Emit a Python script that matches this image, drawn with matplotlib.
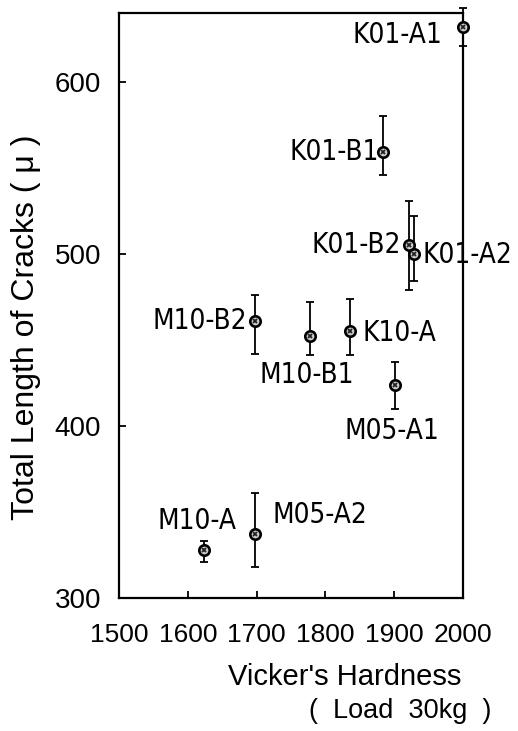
"""
Total crack length vs. Vicker's hardness (load 30 kg), per sample.
"""

import matplotlib
matplotlib.use('Agg')
import matplotlib.pyplot as plt
from matplotlib import font_manager

SAMPLES = ['K01-A1', 'K01-B1', 'K01-B2', 'K01-A2', 'M10-B2',
           'M10-B1', 'K10-A', 'M05-A1', 'M10-A', 'M05-A2']
HARDNESS = [2000, 1884, 1922, 1929, 1698, 1777, 1836, 1901, 1624, 1697]
CRACK_LEN = [632, 559, 505, 500, 461, 452, 455, 424, 328, 337]
ERR_LOW = [11, 13, 26, 16, 19, 11, 14, 14, 7, 19]
ERR_HIGH = [11, 21, 26, 22, 15, 20, 19, 13, 5, 24]

X_TICKS = [1500, 1600, 1700, 1800, 1900, 2000]
Y_TICKS = [300, 400, 500, 600]

# label placement: (dx, dy) in points, ha, va
LABEL_POS = {
    'K01-A1': ((-15, -6), 'right', 'center'),
    'K01-B1': ((-3, 0), 'right', 'center'),
    'K01-B2': ((-6, 0), 'right', 'center'),
    'K01-A2': ((6, -1), 'left', 'center'),
    'M10-B2': ((-6, 0), 'right', 'center'),
    'M10-B1': ((-2, -18), 'center', 'top'),
    'K10-A': ((9, -1.5), 'left', 'center'),
    'M05-A1': ((-2, -23), 'center', 'top'),
    'M10-A': ((-5, 11), 'center', 'bottom'),
    'M05-A2': ((13, 14), 'left', 'center'),
}

AXIS_FONT = ['Liberation Sans', 'DejaVu Sans']


def label_font():
    # the scan uses a narrow face; take a condensed one if the system has it
    for fam, stretch in [('Liberation Sans Narrow', 'normal'),
                         ('DejaVu Sans', 'condensed')]:
        fp = font_manager.FontProperties(family=fam, stretch=stretch)
        try:
            path = font_manager.findfont(fp, fallback_to_default=False)
        except ValueError:
            continue
        if 'Narrow' in path or 'Condensed' in path:
            return font_manager.FontProperties(fname=path, size=20)
    return font_manager.FontProperties(family=AXIS_FONT, size=19)


def main():
    plt.rcParams['font.family'] = AXIS_FONT
    lab_fp = label_font()

    fig = plt.figure(figsize=(5.18, 7.31), dpi=100)
    ax = fig.add_axes([0.2297, 0.1819, 0.6641, 0.8003])

    ax.errorbar(HARDNESS, CRACK_LEN, yerr=[ERR_LOW, ERR_HIGH], fmt='none',
                ecolor='black', elinewidth=1.3, capsize=3, capthick=1.3,
                clip_on=False, zorder=3)
    ax.plot(HARDNESS, CRACK_LEN, 'o', ms=7.5, mfc='#cccccc', mec='black',
            mew=1.9, clip_on=False, zorder=4)
    ax.plot(HARDNESS, CRACK_LEN, 'x', ms=3.5, color='#222222', mew=1.3,
            clip_on=False, zorder=5)

    for name, x, y in zip(SAMPLES, HARDNESS, CRACK_LEN):
        off, ha, va = LABEL_POS[name]
        ax.annotate(name, (x, y), xytext=off, textcoords='offset points',
                    ha=ha, va=va, fontproperties=lab_fp)

    ax.set_xlim(1500, 2000)
    ax.set_ylim(300, 640)
    ax.set_xticks(X_TICKS)
    ax.set_yticks(Y_TICKS)
    ax.tick_params(direction='in', length=5, width=1.3, labelsize=19, pad=18)
    ax.tick_params(axis='y', labelsize=20, pad=13)
    for s in ax.spines.values():
        s.set_linewidth(1.6)

    ax.text(-0.27, 0.463, 'Total Length of Cracks ( \u03bc )', rotation=90,
            transform=ax.transAxes, ha='center', va='center', fontsize=23)
    ax.text(0.657, -0.135, "Vicker's Hardness", transform=ax.transAxes,
            ha='center', va='center', fontsize=21)
    ax.text(0.817, -0.193, '(  Load  30kg  )', transform=ax.transAxes,
            ha='center', va='center', fontsize=19.5)

    fig.savefig('out.png', dpi=100)
    plt.close(fig)


if __name__ == '__main__':
    main()
